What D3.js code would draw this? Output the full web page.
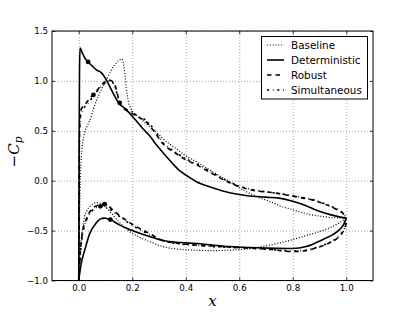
<!DOCTYPE html>
<html>
<head>
<meta charset="utf-8">
<script src="https://cdn.jsdelivr.net/npm/d3@7"></script>
<style>
  body { margin: 0; background: #fff; }
  svg { display: block; }
  .tick text { font-family: "DejaVu Sans", sans-serif; font-size: 8.7px; fill: #000; }
</style>
</head>
<body>
<div id="chart"></div>
<script>
const width = 415;
const height = 312;

const margin = { left: 52, right: 42, top: 31, bottom: 31.5 };

const xTicks = [0.0, 0.2, 0.4, 0.6, 0.8, 1.0];
const yTicks = [-1.0, -0.5, 0.0, 0.5, 1.0, 1.5];
const xDomain = [-0.1, 1.1];
const yDomain = [-1.0, 1.5];

const seriesNames = ["Baseline", "Deterministic", "Robust", "Simultaneous"];

// [x, -Cp] along the upper and the lower surface, leading edge to trailing edge
const baselineUpper = [[0,-1],[0.002,-0.6],[0.004,-0.2],[0.007,0.1],[0.01,0.25],[0.016,0.4],[0.022,0.48],[0.03,0.54],[0.041,0.6],[0.055,0.72],[0.072,0.84],[0.088,0.93],[0.103,1.01],[0.12,1.1],[0.134,1.16],[0.148,1.2],[0.16,1.22],[0.166,1.19],[0.172,1.08],[0.178,0.93],[0.185,0.8],[0.195,0.72],[0.215,0.66],[0.24,0.6],[0.265,0.54],[0.3,0.46],[0.315,0.42],[0.36,0.33],[0.4,0.25],[0.44,0.19],[0.5,0.09],[0.564,-0.01],[0.6,-0.07],[0.626,-0.11],[0.676,-0.17],[0.726,-0.22],[0.75,-0.25],[0.8,-0.29],[0.85,-0.33],[0.9,-0.355],[0.95,-0.37],[1.0,-0.375]];
const baselineLower = [[0,-1],[0.003,-0.85],[0.006,-0.7],[0.01,-0.56],[0.016,-0.45],[0.022,-0.36],[0.03,-0.3],[0.041,-0.26],[0.055,-0.23],[0.066,-0.22],[0.08,-0.225],[0.09,-0.24],[0.12,-0.32],[0.153,-0.42],[0.19,-0.51],[0.23,-0.57],[0.265,-0.61],[0.315,-0.66],[0.39,-0.69],[0.5,-0.7],[0.64,-0.68],[0.676,-0.665],[0.74,-0.63],[0.8,-0.59],[0.85,-0.55],[0.9,-0.51],[0.94,-0.47],[0.975,-0.42],[1.0,-0.375]];

const deterministicUpper = [[0,-1],[0.001,-0.2],[0.002,0.6],[0.003,1.15],[0.005,1.33],[0.015,1.27],[0.025,1.22],[0.035,1.19],[0.05,1.15],[0.066,1.11],[0.085,1.08],[0.103,1.01],[0.128,0.88],[0.147,0.79],[0.178,0.71],[0.215,0.6],[0.24,0.52],[0.265,0.45],[0.29,0.36],[0.315,0.28],[0.345,0.19],[0.377,0.1],[0.41,0.04],[0.44,-0.01],[0.5,-0.07],[0.564,-0.12],[0.63,-0.15],[0.7,-0.165],[0.75,-0.175],[0.8,-0.205],[0.85,-0.25],[0.875,-0.28],[0.91,-0.315],[0.94,-0.34],[0.97,-0.36],[1.0,-0.375]];
const deterministicLower = [[0,-1],[0.005,-0.9],[0.01,-0.82],[0.022,-0.7],[0.041,-0.53],[0.066,-0.42],[0.08,-0.385],[0.095,-0.375],[0.118,-0.39],[0.15,-0.44],[0.19,-0.49],[0.265,-0.56],[0.315,-0.6],[0.38,-0.62],[0.44,-0.63],[0.5,-0.645],[0.564,-0.66],[0.64,-0.67],[0.7,-0.675],[0.8,-0.68],[0.85,-0.66],[0.888,-0.62],[0.92,-0.58],[0.95,-0.54],[0.975,-0.49],[0.99,-0.44],[1.0,-0.375]];

const robustUpper = [[0,-1],[0.001,-0.3],[0.002,0.3],[0.004,0.6],[0.007,0.7],[0.012,0.73],[0.025,0.77],[0.04,0.82],[0.053,0.86],[0.07,0.91],[0.085,0.96],[0.1,0.995],[0.11,1.01],[0.12,1.005],[0.128,0.99],[0.135,0.96],[0.141,0.91],[0.147,0.84],[0.153,0.78],[0.165,0.73],[0.19,0.69],[0.22,0.64],[0.253,0.59],[0.28,0.5],[0.315,0.37],[0.36,0.28],[0.4,0.21],[0.44,0.16],[0.5,0.07],[0.564,-0.02],[0.62,-0.075],[0.66,-0.1],[0.726,-0.12],[0.8,-0.155],[0.85,-0.18],[0.888,-0.205],[0.92,-0.235],[0.95,-0.27],[0.975,-0.305],[0.987,-0.325],[1.0,-0.375]];
const robustLower = [[0,-1],[0.004,-0.8],[0.008,-0.65],[0.016,-0.49],[0.025,-0.41],[0.035,-0.34],[0.048,-0.29],[0.06,-0.26],[0.08,-0.24],[0.097,-0.23],[0.11,-0.25],[0.13,-0.3],[0.153,-0.35],[0.19,-0.42],[0.215,-0.46],[0.265,-0.53],[0.315,-0.6],[0.38,-0.63],[0.44,-0.645],[0.5,-0.655],[0.564,-0.665],[0.64,-0.675],[0.72,-0.69],[0.8,-0.71],[0.84,-0.705],[0.875,-0.685],[0.91,-0.655],[0.94,-0.62],[0.965,-0.58],[0.98,-0.54],[0.992,-0.49],[0.998,-0.44],[1.0,-0.375]];

const simultaneousUpper = [[0,-1],[0.001,-0.3],[0.002,0.2],[0.004,0.55],[0.008,0.66],[0.015,0.71],[0.03,0.76],[0.05,0.83],[0.07,0.9],[0.09,0.96],[0.105,0.99],[0.118,1.0],[0.13,0.97],[0.14,0.9],[0.148,0.82],[0.156,0.77],[0.17,0.73],[0.19,0.7],[0.22,0.65],[0.253,0.6],[0.28,0.52],[0.315,0.38],[0.36,0.29],[0.4,0.22],[0.44,0.17],[0.5,0.08],[0.564,-0.015],[0.62,-0.07],[0.66,-0.095],[0.726,-0.12],[0.8,-0.15],[0.85,-0.175],[0.888,-0.2],[0.92,-0.23],[0.95,-0.265],[0.975,-0.3],[0.987,-0.325],[1.0,-0.375]];
const simultaneousLower = [[0,-1],[0.004,-0.82],[0.008,-0.68],[0.015,-0.53],[0.025,-0.42],[0.035,-0.36],[0.05,-0.3],[0.065,-0.27],[0.081,-0.257],[0.095,-0.26],[0.11,-0.28],[0.13,-0.31],[0.153,-0.36],[0.19,-0.43],[0.265,-0.54],[0.315,-0.6],[0.38,-0.635],[0.44,-0.648],[0.5,-0.66],[0.564,-0.668],[0.64,-0.678],[0.72,-0.69],[0.8,-0.705],[0.84,-0.7],[0.875,-0.68],[0.91,-0.65],[0.94,-0.615],[0.965,-0.575],[0.98,-0.535],[0.992,-0.485],[0.998,-0.44],[1.0,-0.375]];

// clustered points that show up as blobs on the curves
const blobs = [[0.035,1.19],[0.118,-0.39],[0.055,0.86],[0.097,-0.235],[0.081,-0.257],[0.153,0.78]];

const styles = [
  { width: 1.2, dash: "1,1.8" },
  { width: 1.6, dash: null },
  { width: 1.6, dash: "4.5,4" },
  { width: 1.6, dash: "2.2,3.6,0.8,3.6" }
];

const surfaces = [
  [baselineUpper, baselineLower],
  [deterministicUpper, deterministicLower],
  [robustUpper, robustLower],
  [simultaneousUpper, simultaneousLower]
];

const svg = d3.select("#chart").append("svg")
    .attr("width", width)
    .attr("height", height);

const xScale = d3.scaleLinear()
    .domain(xDomain)
    .range([margin.left, width - margin.right]);

const yScale = d3.scaleLinear()
    .domain(yDomain)
    .range([height - margin.bottom, margin.top]);

const plotW = width - margin.left - margin.right;
const plotH = height - margin.top - margin.bottom;

svg.append("clipPath").attr("id", "clip")
  .append("rect")
    .attr("x", margin.left).attr("y", margin.top)
    .attr("width", plotW).attr("height", plotH);

// grid
const gridX = svg.append("g")
    .attr("transform", "translate(0," + margin.top + ")")
    .call(d3.axisBottom(xScale).tickValues(xTicks).tickSize(plotH).tickFormat(""));
const gridY = svg.append("g")
    .attr("transform", "translate(" + margin.left + ",0)")
    .call(d3.axisRight(yScale).tickValues(yTicks).tickSize(plotW).tickFormat(""));
[gridX, gridY].forEach(g => {
  g.select(".domain").remove();
  g.selectAll(".tick line")
    .attr("stroke", "#8a8a8a")
    .attr("stroke-width", 0.8)
    .attr("stroke-dasharray", "1,2");
});

// curves
const line = d3.line()
    .curve(d3.curveMonotoneX)
    .x(d => xScale(d[0]))
    .y(d => yScale(d[1]));

const curves = svg.append("g").attr("clip-path", "url(#clip)");

surfaces.forEach((pair, i) => {
  curves.selectAll(".s" + i)
    .data(pair)
    .join("path")
      .attr("class", "s" + i)
      .attr("fill", "none")
      .attr("stroke", "#000")
      .attr("stroke-width", styles[i].width)
      .attr("stroke-dasharray", styles[i].dash)
      .attr("stroke-linejoin", "round")
      .attr("d", d => line(d));
});

curves.selectAll(".blob")
  .data(blobs)
  .join("circle")
    .attr("class", "blob")
    .attr("cx", d => xScale(d[0]))
    .attr("cy", d => yScale(d[1]))
    .attr("r", 2.4)
    .attr("fill", "#000");

// axes with inward ticks
const xAxis = svg.append("g")
    .attr("transform", "translate(0," + (height - margin.bottom) + ")")
    .call(d3.axisBottom(xScale).tickValues(xTicks).tickSize(-3).tickPadding(4)
      .tickFormat(d3.format(".1f")));
const xAxisTop = svg.append("g")
    .attr("transform", "translate(0," + margin.top + ")")
    .call(d3.axisTop(xScale).tickValues(xTicks).tickSize(-3).tickFormat(""));
const yAxis = svg.append("g")
    .attr("transform", "translate(" + margin.left + ",0)")
    .call(d3.axisLeft(yScale).tickValues(yTicks).tickSize(-3).tickPadding(4)
      .tickFormat(d => d3.format(".1f")(d).replace("-", "\u2212")));
const yAxisRight = svg.append("g")
    .attr("transform", "translate(" + (width - margin.right) + ",0)")
    .call(d3.axisRight(yScale).tickValues(yTicks).tickSize(-3).tickFormat(""));

[xAxis, xAxisTop, yAxis, yAxisRight].forEach(g => {
  g.select(".domain").remove();
  g.selectAll(".tick line").attr("stroke", "#000").attr("stroke-width", 0.8);
});
xAxis.selectAll(".tick text").attr("dy", "0.71em").attr("y", 4);

svg.append("rect")
    .attr("x", margin.left).attr("y", margin.top)
    .attr("width", plotW).attr("height", plotH)
    .attr("fill", "none")
    .attr("stroke", "#000")
    .attr("stroke-width", 1);

// axis titles
svg.append("text")
    .attr("x", xScale(0.5))
    .attr("y", 306)
    .attr("text-anchor", "middle")
    .style("font-family", "'DejaVu Serif', serif")
    .style("font-style", "italic")
    .style("font-size", "15px")
    .text("x");

const yTitle = svg.append("text")
    .attr("text-anchor", "middle")
    .attr("transform", "translate(19," + 152 + ") rotate(-90)")
    .style("font-family", "'DejaVu Serif', serif")
    .style("font-size", "15px");
yTitle.append("tspan").text("\u2212");
yTitle.append("tspan").style("font-style", "italic").text("C");
yTitle.append("tspan").style("font-style", "italic").style("font-size", "10.5px")
    .attr("dy", 3).text("p");

// legend
const legend = svg.append("g");
legend.append("rect")
    .attr("x", 261.5).attr("y", 36.5)
    .attr("width", 106).attr("height", 62.5)
    .attr("fill", "#fff")
    .attr("stroke", "#000")
    .attr("stroke-width", 1);

const rows = legend.selectAll(".row")
  .data(seriesNames)
  .join("g")
    .attr("class", "row")
    .attr("transform", (d, i) => "translate(0," + (45 + i * 15) + ")");

rows.append("line")
    .attr("x1", 267).attr("x2", 284)
    .attr("stroke", "#000")
    .attr("stroke-width", (d, i) => styles[i].width)
    .attr("stroke-dasharray", (d, i) => styles[i].dash);

rows.append("text")
    .attr("x", 291)
    .attr("dy", "0.36em")
    .style("font-family", "'DejaVu Sans', sans-serif")
    .style("font-size", "10.4px")
    .text(d => d);
</script>
</body>
</html>
